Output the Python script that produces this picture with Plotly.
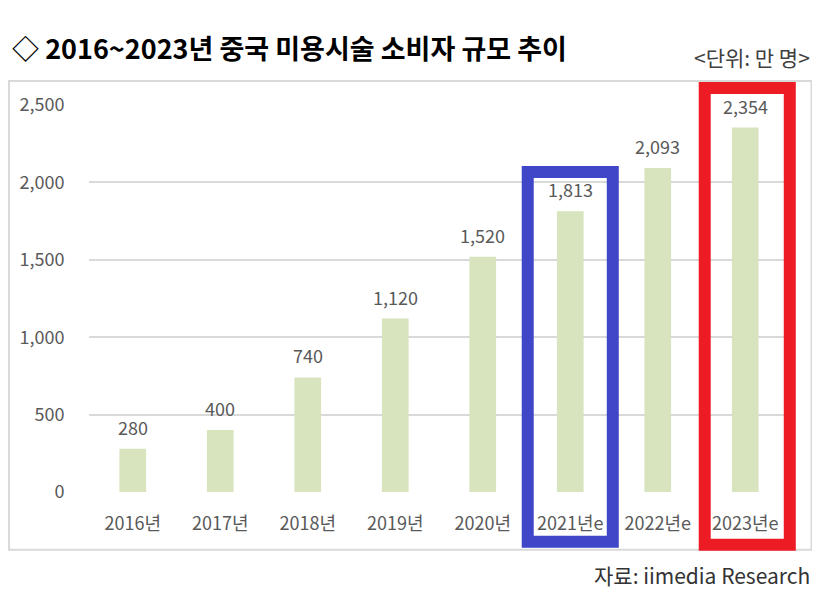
import plotly.graph_objects as go

categories = ["2016년", "2017년", "2018년", "2019년", "2020년", "2021년e", "2022년e", "2023년e"]
values = [280, 400, 740, 1120, 1520, 1813, 2093, 2354]
y_ticks = [0, 500, 1000, 1500, 2000, 2500]

title_text = "◇ 2016~2023년 중국 미용시술 소비자 규모 추이"
unit_text = "<단위: 만 명>"
source_text = "자료: iimedia Research"
highlight_blue = "2021년e"
highlight_red = "2023년e"

FONT = "Noto Sans CJK KR"
GRAY = "#595959"

OFF = 8  # page body margin
W, H = 820 - OFF, 600 - OFF
L, R, T, B = 81.45, 30.55, 97, 107.7
PW = W - L - R
PH = H - T - B


def px(x):
    return (x - OFF - L) / PW


def py(y):
    return (H - B - (y - OFF)) / PH


fig = go.Figure()
fig.add_trace(go.Bar(
    x=list(range(len(categories))), y=values,
    marker=dict(color="#d7e4bd", line=dict(width=0)),
    hoverinfo="skip",
))

annotations = []
for i, v in enumerate(values):
    annotations.append(dict(
        x=i, y=v, xref="x", yref="y", text=f"{v:,}", showarrow=False,
        yanchor="bottom", yshift=7, font=dict(family=FONT, size=18, color=GRAY),
    ))
annotations += [
    dict(x=px(10), y=py(47), xref="paper", yref="paper", text="<b>" + title_text + "</b>",
         showarrow=False, xanchor="left", yanchor="middle",
         font=dict(family=FONT, size=27, color="#000000")),
    dict(x=px(812), y=py(57), xref="paper", yref="paper",
         text=unit_text.replace("<", "&lt;").replace(">", "&gt;"),
         showarrow=False, xanchor="right", yanchor="middle",
         font=dict(family=FONT, size=21, color="#404040")),
    dict(x=px(812), y=py(575), xref="paper", yref="paper", text=source_text,
         showarrow=False, xanchor="right", yanchor="middle",
         font=dict(family=FONT, size=21, color="#333333")),
]

n = len(categories)
half = 0.486
shapes = [
    dict(type="rect", xref="paper", yref="paper", x0=px(9.5), x1=px(812), y0=py(550), y1=py(81),
         line=dict(color="#d9d9d9", width=2), layer="below"),
]
bi = categories.index(highlight_blue)
ri = categories.index(highlight_red)
shapes.append(dict(type="rect", xref="paper", yref="paper",
                   x0=(bi + 0.5 - half) / n, x1=(bi + 0.5 + half) / n,
                   y0=py(542), y1=py(172), line=dict(color="#3f46c8", width=12), layer="above"))
shapes.append(dict(type="rect", xref="paper", yref="paper",
                   x0=(ri + 0.5 - half) / n + 2 / PW, x1=(ri + 0.5 + half) / n + 2 / PW,
                   y0=py(545), y1=py(88), line=dict(color="#ed1c24", width=12), layer="above"))

fig.update_layout(
    width=W, height=H,
    margin=dict(l=L, r=R, t=T, b=B, pad=0),
    paper_bgcolor="white", plot_bgcolor="white",
    bargap=0.695, showlegend=False,
    annotations=annotations, shapes=shapes,
    xaxis=dict(
        tickmode="array", tickvals=list(range(n)), ticktext=categories,
        range=[-0.5, n - 0.5], showgrid=False, zeroline=False, showline=False,
        ticks="outside", ticklen=15, tickcolor="rgba(0,0,0,0)",
        tickfont=dict(family=FONT, size=18, color=GRAY), fixedrange=True,
    ),
    yaxis=dict(
        range=[0, 2500], tickmode="array", tickvals=y_ticks,
        ticktext=[f"{t:,}" for t in y_ticks],
        showgrid=True, gridcolor="#d9d9d9", gridwidth=1.5, zeroline=False, showline=False,
        ticks="outside", ticklen=20, tickcolor="rgba(0,0,0,0)",
        tickfont=dict(family=FONT, size=18, color=GRAY), fixedrange=True,
    ),
)

fig.write_html("out.html")
